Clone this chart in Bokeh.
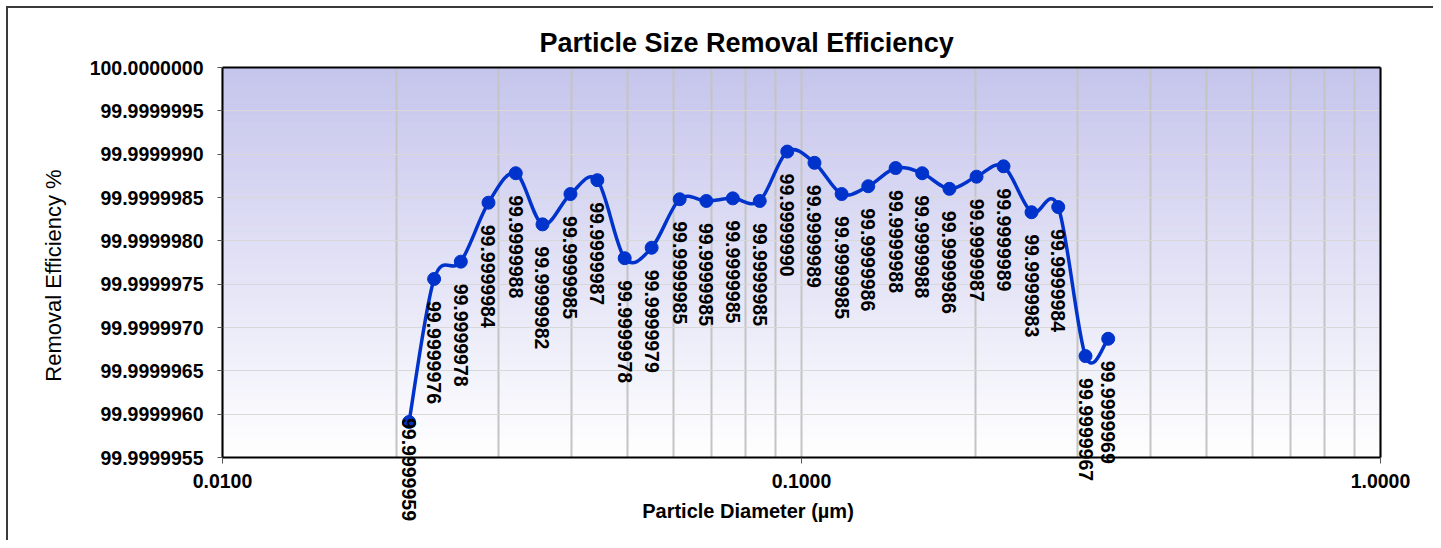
import math
from bokeh.plotting import figure
from bokeh.models import Range1d, FixedTicker, PrintfTickFormatter, ColumnDataSource, Label
from bokeh.embed import file_html
from bokeh.resources import INLINE

# ---- data ----
diameter_um = [0.0210, 0.0232, 0.0258, 0.0288, 0.0321, 0.0357, 0.0399, 0.0444, 0.0495,
               0.0551, 0.0616, 0.0685, 0.0761, 0.0847, 0.0945, 0.1053, 0.1173, 0.1304,
               0.1454, 0.1616, 0.1801, 0.2006, 0.2233, 0.2496, 0.2776, 0.3094, 0.3386]
efficiency_pct = [99.99999591, 99.99999756, 99.99999776, 99.99999844, 99.99999878,
                  99.99999819, 99.99999854, 99.99999870, 99.99999780, 99.99999792,
                  99.99999848, 99.99999846, 99.99999849, 99.99999846, 99.99999903,
                  99.99999890, 99.99999854, 99.99999863, 99.99999884, 99.99999878,
                  99.99999860, 99.99999874, 99.99999886, 99.99999833, 99.99999839,
                  99.99999667, 99.99999687]
y_ticks = [99.9999955, 99.9999960, 99.9999965, 99.9999970, 99.9999975,
           99.9999980, 99.9999985, 99.9999990, 99.9999995, 100.0000000]
x_ticks = [0.01, 0.1, 1.0]
x_minor_ticks = [0.02, 0.03, 0.04, 0.05, 0.06, 0.07, 0.08, 0.09,
                 0.2, 0.3, 0.4, 0.5, 0.6, 0.7, 0.8, 0.9]

TITLE = "Particle Size Removal Efficiency"
X_TITLE = "Particle Diameter (µm)"
Y_TITLE = "Removal Efficiency %"

FONT = "Liberation Sans"
BLUE = "#0033CC"

x_lo, x_hi = x_ticks[0], x_ticks[-1]
y_lo, y_hi = y_ticks[0], y_ticks[-1]

# ---- layout (page pixels) ----
ORIGIN = 8                                   # where the figure content starts
BOX_L, BOX_R, BOX_T, BOX_B = 222, 1380, 67, 457   # plotting box
FR_L, FR_R, FR_T, FR_B = 30, 1420, 59, 535        # bokeh frame (room for the labels)
FIG_W, FIG_H = 1425, 532
px_dec = (BOX_R - BOX_L) / math.log10(x_hi / x_lo)
px_y = (BOX_B - BOX_T) / (y_hi - y_lo)


def x_at(px):
    return x_lo * 10 ** ((px - BOX_L) / px_dec)


def y_at(py):
    return y_lo + (BOX_B - py) / px_y


p = figure(x_axis_type="log", output_backend="svg", toolbar_location=None,
           frame_width=FR_R - FR_L, frame_height=FR_B - FR_T,
           min_border_left=FR_L - ORIGIN, min_border_top=FR_T - ORIGIN,
           min_border_right=FIG_W - (FR_R - ORIGIN), min_border_bottom=FIG_H - (FR_B - ORIGIN),
           x_range=Range1d(x_at(FR_L), x_at(FR_R)), y_range=Range1d(y_at(FR_B), y_at(FR_T)))
p.styles = {"border-top": "2px solid #3a3a3a", "border-left": "2px solid #3a3a3a",
            "margin-left": "6px", "margin-top": "6px"}
p.outline_line_color = None
p.background_fill_color = "white"
p.border_fill_color = "white"

# title
p.title.text = TITLE
p.title.align = "left"
p.title.offset = 539 - FR_L
p.title.text_font = FONT
p.title.text_font_size = "27px"
p.title.text_font_style = "bold"
p.title.text_color = "black"
p.title.standoff = 3

# background gradient of the plotting box (decoration)
n = 90
bots, tops, cols = [], [], []
top_rgb = (197, 196, 236)
for i in range(n):
    f0 = i / n
    f1 = (i + 1) / n
    bots.append(y_lo + (y_hi - y_lo) * f0)
    tops.append(y_lo + (y_hi - y_lo) * f1)
    t = (f0 + f1) / 2  # 0 bottom -> 1 top
    r = round(255 + (top_rgb[0] - 255) * t)
    g = round(255 + (top_rgb[1] - 255) * t)
    b = round(255 + (top_rgb[2] - 255) * t)
    cols.append("#%02x%02x%02x" % (r, g, b))
bg = p.quad(left=x_lo, right=x_hi, bottom=bots, top=tops, fill_color=cols,
            line_color=cols, line_width=1)
bg.level = "image"

# grids (limited to the plotting box)
p.xgrid.ticker = FixedTicker(ticks=x_ticks, minor_ticks=x_minor_ticks)
p.ygrid.ticker = FixedTicker(ticks=y_ticks)
try:
    p.xgrid.cross_bounds = (y_lo, y_hi)
    p.ygrid.cross_bounds = (x_lo, x_hi)
    p.xgrid.grid_line_color = "#c4c4c4"
    p.xgrid.grid_line_width = 2
    p.xgrid.minor_grid_line_color = "#c4c4c4"
    p.xgrid.minor_grid_line_width = 2
    p.ygrid.grid_line_color = "#d8d8d8"
    p.ygrid.grid_line_width = 1
except AttributeError:
    p.xgrid.visible = False
    p.ygrid.visible = False
    gx = x_ticks + x_minor_ticks
    gl = p.segment(x0=gx, x1=gx, y0=y_lo, y1=y_hi, line_color="#c4c4c4", line_width=2)
    gl.level = "underlay"
    gh = p.segment(x0=x_lo, x1=x_hi, y0=y_ticks, y1=y_ticks, line_color="#d8d8d8", line_width=1)
    gh.level = "underlay"

# axes, fixed to the plotting box edges
p.xaxis.ticker = FixedTicker(ticks=x_ticks, minor_ticks=x_minor_ticks)
p.xaxis.formatter = PrintfTickFormatter(format="%.4f")
p.yaxis.ticker = FixedTicker(ticks=y_ticks)
p.yaxis.formatter = PrintfTickFormatter(format="%.7f")
p.xaxis.fixed_location = y_lo
p.xaxis.bounds = (x_lo, x_hi)
p.yaxis.fixed_location = x_lo
p.yaxis.bounds = (y_lo, y_hi)
for ax in (p.xaxis[0], p.yaxis[0]):
    ax.axis_line_color = "black"
    ax.axis_line_width = 2
    ax.major_tick_line_color = "#555555"
    ax.major_tick_line_width = 1
    ax.major_tick_in = 0
    ax.minor_tick_line_color = None
    ax.major_label_text_font = FONT
    ax.major_label_text_font_size = "19.5px"
    ax.major_label_text_font_style = "bold"
    ax.major_label_text_color = "black"
p.xaxis.major_tick_out = 6
p.xaxis.major_label_standoff = 10
p.yaxis.major_tick_out = 5
p.yaxis.major_label_standoff = 14

# top and right edges of the plotting box
p.segment(x0=[x_lo, x_hi], y0=[y_hi, y_lo], x1=[x_hi, x_hi], y1=[y_hi, y_hi],
          line_color="black", line_width=2)

# axis titles
p.add_layout(Label(x=x_at(747.5), y=y_at(510), text=X_TITLE, text_align="center",
                   text_baseline="middle", text_font=FONT, text_font_size="20px",
                   text_font_style="bold", text_color="black"))
p.add_layout(Label(x=x_at(53), y=y_at(275), text=Y_TITLE, angle=math.pi / 2,
                   text_align="center", text_baseline="middle", text_font=FONT,
                   text_font_size="22px", text_font_style="normal", text_color="black"))

# smoothed line (Bezier segments through the data points, in log-x screen space)
u = [math.log10(v) for v in diameter_um]
yv = efficiency_pct
npts = len(u)
x0s, y0s, x1s, y1s, cx0s, cy0s, cx1s, cy1s = [], [], [], [], [], [], [], []
for i in range(npts - 1):
    a = i - 1 if i > 0 else i
    d = i + 2 if i + 2 < npts else i + 1
    c0u = u[i] + (u[i + 1] - u[a]) / 6.0
    c0y = yv[i] + (yv[i + 1] - yv[a]) / 6.0
    c1u = u[i + 1] - (u[d] - u[i]) / 6.0
    c1y = yv[i + 1] - (yv[d] - yv[i]) / 6.0
    x0s.append(diameter_um[i]); y0s.append(yv[i])
    x1s.append(diameter_um[i + 1]); y1s.append(yv[i + 1])
    cx0s.append(10 ** c0u); cy0s.append(c0y)
    cx1s.append(10 ** c1u); cy1s.append(c1y)
p.bezier(x0=x0s, y0=y0s, x1=x1s, y1=y1s, cx0=cx0s, cy0=cy0s, cx1=cx1s, cy1=cy1s,
         line_color=BLUE, line_width=3.5)

src = ColumnDataSource(dict(x=diameter_um, y=efficiency_pct))
p.scatter(x="x", y="y", source=src, size=13, fill_color=BLUE, line_color=BLUE)

# data labels
for i, (xv, yv_i) in enumerate(zip(diameter_um, efficiency_pct)):
    p.add_layout(Label(x=xv, y=yv_i, text="%.7f" % yv_i, angle=-math.pi / 2,
                       y_offset=(4 if i == 0 else -22), text_align="left",
                       text_baseline="middle", text_font=FONT,
                       text_font_size="19.5px", text_font_style="bold",
                       text_color="black"))

open("out.html", "w").write(file_html(p, INLINE))
